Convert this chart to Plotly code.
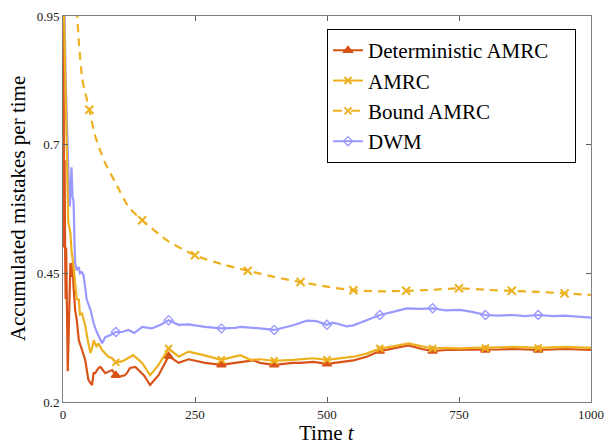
import plotly.graph_objects as go

# ---- data ----
t_det = [1, 2, 3, 4, 5, 6, 7, 8, 9, 10, 12, 14, 16, 18, 20, 23, 26, 30, 36, 42, 48, 52, 55, 58, 61, 67, 71,
         80, 93, 100, 105, 117, 121, 127, 137, 153, 165, 181, 200, 219, 238, 269, 300, 326, 360, 373, 400,
         436, 449, 474, 500, 550, 575, 600, 625, 654, 680, 700, 725, 752, 775, 800, 825, 853, 875, 900,
         925, 954, 975, 1000]
v_det = [1.0, 0.5, 0.67, 0.5, 0.4, 0.5, 0.43, 0.32, 0.26, 0.3, 0.38, 0.47, 0.443, 0.47, 0.423, 0.379, 0.36,
         0.32, 0.301, 0.282, 0.243, 0.237, 0.233, 0.256, 0.256, 0.266, 0.268, 0.256, 0.262, 0.252, 0.249,
         0.252, 0.256, 0.266, 0.268, 0.252, 0.233, 0.252, 0.289, 0.276, 0.283, 0.276, 0.272, 0.276, 0.281,
         0.276, 0.272, 0.276, 0.276, 0.278, 0.274, 0.281, 0.288, 0.299, 0.304, 0.31, 0.303, 0.299, 0.301,
         0.301, 0.302, 0.301, 0.302, 0.303, 0.302, 0.301, 0.302, 0.303, 0.302, 0.301]

t_amrc = [1, 3, 5, 6, 8, 10, 14, 16, 20, 23, 26, 30, 32, 36, 42, 48, 52, 55, 58, 64, 67, 74, 86, 93, 100,
          112, 127, 133, 150, 165, 181, 200, 219, 238, 266, 300, 336, 355, 373, 400, 436, 449, 474, 500,
          550, 575, 600, 625, 654, 680, 700, 725, 752, 775, 800, 825, 853, 875, 900, 925, 954, 975, 1000]
v_amrc = [1.0, 0.9, 0.8, 0.75, 0.62, 0.55, 0.528, 0.495, 0.462, 0.437, 0.40, 0.399, 0.37, 0.372, 0.349,
          0.314, 0.295, 0.305, 0.32, 0.307, 0.314, 0.301, 0.288, 0.285, 0.277, 0.279, 0.287, 0.291, 0.276,
          0.252, 0.272, 0.304, 0.288, 0.298, 0.291, 0.282, 0.291, 0.282, 0.283, 0.280, 0.282, 0.283, 0.285,
          0.282, 0.288, 0.294, 0.304, 0.308, 0.314, 0.308, 0.304, 0.305, 0.304, 0.305, 0.305, 0.306, 0.307,
          0.306, 0.305, 0.306, 0.307, 0.306, 0.305]

t_bound = [20, 27, 30, 36, 40, 50, 60, 70, 80, 100, 124, 150, 197, 250, 300, 350, 400, 450, 500, 550, 600,
           650, 700, 750, 800, 850, 900, 950, 1000]
v_bound = [1.07, 0.95, 0.90, 0.831, 0.81, 0.768, 0.72, 0.69, 0.664, 0.625, 0.579, 0.553, 0.514, 0.485,
           0.468, 0.455, 0.443, 0.433, 0.424, 0.417, 0.415, 0.416, 0.418, 0.421, 0.418, 0.416, 0.414, 0.411,
           0.408]

t_dwm = [1, 3, 5, 7, 9, 11, 13, 15, 16, 18, 20, 22, 23, 26, 30, 32, 36, 39, 45, 52, 58, 64, 69, 74, 80, 90,
         100, 112, 124, 135, 150, 168, 185, 200, 219, 238, 269, 300, 326, 336, 373, 400, 436, 462, 480, 500,
         510, 520, 537, 550, 575, 600, 625, 651, 675, 700, 725, 752, 775, 800, 825, 853, 875, 900, 928, 950,
         975, 1000]
v_dwm = [1.0, 0.95, 0.83, 0.75, 0.70, 0.62, 0.58, 0.64, 0.656, 0.60, 0.59, 0.50, 0.47, 0.456, 0.462, 0.45,
         0.452, 0.446, 0.399, 0.379, 0.353, 0.336, 0.326, 0.314, 0.326, 0.33, 0.336, 0.336, 0.34, 0.334,
         0.346, 0.343, 0.35, 0.359, 0.35, 0.351, 0.346, 0.343, 0.344, 0.346, 0.343, 0.340, 0.349, 0.358,
         0.357, 0.350, 0.354, 0.352, 0.347, 0.349, 0.359, 0.369, 0.375, 0.382, 0.381, 0.382, 0.378, 0.379,
         0.375, 0.369, 0.368, 0.369, 0.367, 0.369, 0.367, 0.368, 0.366, 0.364]

marker_t = [100, 200, 300, 400, 500, 600, 700, 800, 900]
bound_marker_t = [50, 150, 250, 350, 450, 550, 650, 750, 850, 950]

x_ticks = [0, 250, 500, 750, 1000]
y_ticks = [0.2, 0.45, 0.7, 0.95]
y_tick_text = ["0.2", "0.45", "0.7", "0.95"]

names = ["Deterministic AMRC", "AMRC", "Bound AMRC", "DWM"]
x_title = "Time <i>t</i>"
y_title = "Accumulated mistakes per time"

C_DET = "#D95319"
C_AMRC = "#EDB120"
C_DWM = "#9999FF"
FONT = "Liberation Serif"


def pick(ts, vs, keys):
    xs = [t for t in ts if t in keys]
    ys = [v for t, v in zip(ts, vs) if t in keys]
    return xs, ys


fig = go.Figure()

series = [
    (t_dwm, v_dwm, C_DWM, "solid", "diamond-open", 7, marker_t, 3),
    (t_det, v_det, C_DET, "solid", "triangle-up", 8, marker_t, 0),
    (t_amrc, v_amrc, C_AMRC, "solid", "x-thin", 7, marker_t, 1),
    (t_bound, v_bound, C_AMRC, "8px,6px", "x-thin", 8, bound_marker_t, 2),
]

for ts, vs, col, dash, sym, size, mk, idx in series:
    fig.add_trace(go.Scatter(
        x=ts, y=vs, mode="lines",
        line=dict(color=col, width=2.2, dash=dash,
                  shape="spline" if idx == 2 else "linear", smoothing=0.6 if idx == 2 else None),
        showlegend=False, hoverinfo="skip"))
    mx, my = pick(ts, vs, mk)
    fig.add_trace(go.Scatter(
        x=mx, y=my, mode="markers",
        marker=dict(symbol=sym, size=size, color=col,
                    line=dict(color=col, width=2 if "x" in sym else 1.3)),
        showlegend=False, hoverinfo="skip"))

legend_spec = [
    (names[0] + "\u00a0\u00a0\u00a0\u00a0", C_DET, "solid", "triangle-up", 8),
    (names[1], C_AMRC, "solid", "x-thin", 7),
    (names[2], C_AMRC, "dash", "x-thin", 7),
    (names[3], C_DWM, "solid", "diamond-open", 7),
]
for nm, col, dash, sym, size in legend_spec:
    fig.add_trace(go.Scatter(
        x=[None], y=[None], mode="lines+markers", name=nm,
        line=dict(color=col, width=2, dash=dash),
        marker=dict(symbol=sym, size=size, color=col,
                    line=dict(color=col, width=2 if "x" in sym else 1.3))))

axis_common = dict(
    showline=True, linecolor="#808080", linewidth=1, mirror="ticks",
    ticks="inside", ticklen=5, tickcolor="#606060", tickwidth=1,
    showgrid=False, zeroline=False, automargin=False,
    tickfont=dict(family=FONT, size=13, color="#222222"),
)

fig.update_layout(
    width=605, height=445,
    margin=dict(l=63, r=14, t=16, b=43),
    paper_bgcolor="white", plot_bgcolor="white",
    font=dict(family=FONT, color="black"),
    xaxis=dict(range=[0, 1000], tickvals=x_ticks, **axis_common),
    yaxis=dict(range=[0.2, 0.95], tickvals=y_ticks, ticktext=y_tick_text, **axis_common),
    legend=dict(x=0.5, y=0.966, xanchor="left", yanchor="top",
                bgcolor="white", bordercolor="black", borderwidth=1,
                font=dict(family=FONT, size=21, color="black"),
                itemwidth=30),
    annotations=[
        dict(text=x_title, xref="paper", yref="paper", x=0.5, y=-0.08,
             xanchor="center", yanchor="middle", showarrow=False,
             font=dict(family=FONT, size=21, color="black")),
        dict(text=y_title, xref="paper", yref="paper", x=-0.085, y=0.5,
             xanchor="center", yanchor="middle", textangle=-90, showarrow=False,
             font=dict(family=FONT, size=21, color="black")),
    ],
)

fig.write_html(
    "out.html",
    config={"displayModeBar": False},
    post_script="document.body.style.margin='0';document.body.style.overflow='hidden';",
)
